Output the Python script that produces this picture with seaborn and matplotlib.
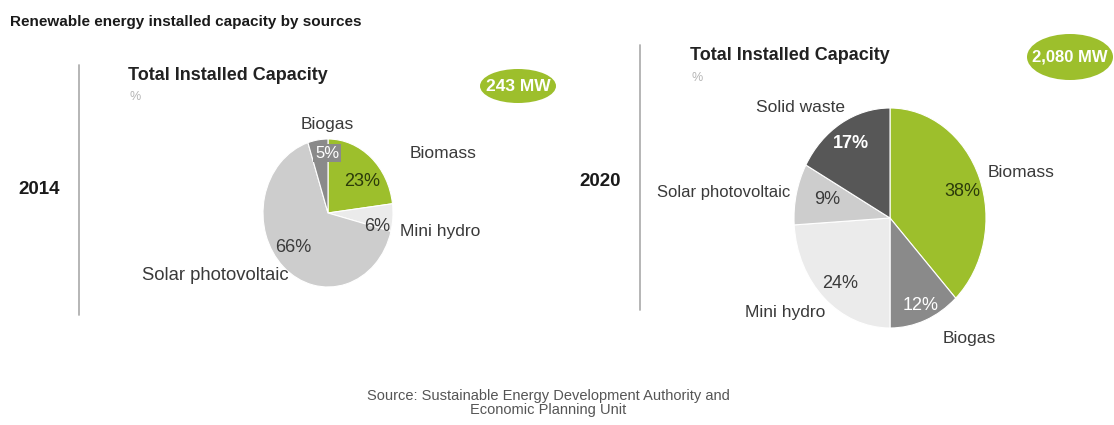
import matplotlib
matplotlib.use("Agg")
import matplotlib.pyplot as plt
from matplotlib.patches import Ellipse
import seaborn as sns

sns.set_theme(style="white")
plt.rcParams["font.family"] = ["Liberation Sans", "DejaVu Sans"]

# ---------------- data ----------------
title = "Renewable energy installed capacity by sources"
years = ["2014", "2020"]
totals = ["243 MW", "2,080 MW"]

sources_2014 = ["Biomass", "Mini hydro", "Solar photovoltaic", "Biogas"]
values_2014 = [23, 6, 66, 5]

sources_2020 = ["Biomass", "Biogas", "Mini hydro", "Solar photovoltaic", "Solid waste"]
values_2020 = [38, 12, 24, 9, 17]

source_note = "Source: Sustainable Energy Development Authority and\nEconomic Planning Unit"

# ---------------- styles ----------------
GREEN = "#9dbf2c"
color_map = {
    "Biomass": GREEN,
    "Mini hydro": "#ebebeb",
    "Solar photovoltaic": "#cdcdcd",
    "Biogas": "#8a8a8a",
    "Solid waste": "#575757",
}

W, H = 1114, 425
fig = plt.figure(figsize=(W / 100, H / 100), dpi=100)
fig.patch.set_facecolor("white")


def fx(x):
    return x / W


def fy(y):
    return 1 - y / H


def ftext(x, y, s, **kw):
    kw.setdefault("va", "center")
    kw.setdefault("ha", "left")
    fig.text(fx(x), fy(y), s, **kw)


# background axes for lines / badges
bg = fig.add_axes([0, 0, 1, 1])
bg.set_xlim(0, W)
bg.set_ylim(H, 0)
bg.axis("off")

# title
ftext(10, 22, title, fontsize=11, fontweight="bold", color="#1a1a1a")

# vertical separators
bg.plot([79, 79], [65, 315], color="#b0b0b0", lw=1.3)
bg.plot([640, 640], [45, 310], color="#b0b0b0", lw=1.3)

# year labels
ftext(18, 190, years[0], fontsize=13.5, fontweight="bold", color="#1a1a1a")
ftext(579, 181, years[1], fontsize=13.5, fontweight="bold", color="#1a1a1a")

# panel headings
ftext(128, 75, "Total Installed Capacity", fontsize=13, fontweight="bold", color="#222222")
ftext(129, 97, "%", fontsize=9, color="#b5b5b5")
ftext(690, 55, "Total Installed Capacity", fontsize=13, fontweight="bold", color="#222222")
ftext(691, 78, "%", fontsize=9, color="#b5b5b5")

# badges
for (cx, cy, w, h), txt, fs in zip([(518, 86, 76, 34), (1070, 57, 86, 46)], totals, [12.5, 12]):
    bg.add_patch(Ellipse((cx, cy), w, h, facecolor=GREEN, edgecolor="none"))
    bg.text(cx, cy, txt, ha="center", va="center", color="white",
            fontsize=fs, fontweight="bold")


def draw_pie(center, rx, ry, sources, values):
    cx, cy = center
    ax = fig.add_axes([fx(cx - rx), fy(cy + ry), 2 * rx / W, 2 * ry / H])
    cols = [color_map[s] for s in sources]
    ax.pie(values, colors=cols, startangle=90, counterclock=False,
           wedgeprops=dict(linewidth=0.8, edgecolor="white"))
    ax.set_aspect("auto")
    ax.set_xlim(-1, 1)
    ax.set_ylim(-1, 1)
    ax.axis("off")
    return ax


draw_pie((328, 213), 65, 74, sources_2014, values_2014)
draw_pie((890, 218), 96, 110, sources_2020, values_2020)

lab_kw = dict(fontsize=12.5, color="#3a3a3a")
pct_kw = dict(fontsize=13, color="#3a3a3a")

# ---- 2014 labels ----
v = dict(zip(sources_2014, values_2014))
ftext(327, 124, "Biogas", ha="center", **lab_kw)
ftext(327, 153, f"{v['Biogas']}%", ha="center", fontsize=12, color="white",
      bbox=dict(boxstyle="square,pad=0.1", facecolor="#8a8a8a", edgecolor="none"))
ftext(410, 153, "Biomass", **lab_kw)
ftext(362, 181, f"{v['Biomass']}%", ha="center", fontsize=13, color="#2b3a0a")
ftext(377, 227, f"{v['Mini hydro']}%", ha="center", **pct_kw)
ftext(400, 231, "Mini hydro", **lab_kw)
ftext(293, 248, f"{v['Solar photovoltaic']}%", ha="center", **pct_kw)
ftext(142, 276, "Solar photovoltaic", fontsize=13.3, color="#3a3a3a")

# ---- 2020 labels ----
v = dict(zip(sources_2020, values_2020))
ftext(800, 108, "Solid waste", ha="center", **lab_kw)
ftext(851, 143, f"{v['Solid waste']}%", ha="center", fontsize=13,
      fontweight="bold", color="white")
ftext(988, 172, "Biomass", **lab_kw)
ftext(962, 191, f"{v['Biomass']}%", ha="center", fontsize=13, color="#2b3a0a")
ftext(657, 192, "Solar photovoltaic", fontsize=12, color="#3a3a3a")
ftext(827, 200, f"{v['Solar photovoltaic']}%", ha="center", **pct_kw)
ftext(840, 283, f"{v['Mini hydro']}%", ha="center", **pct_kw)
ftext(745, 313, "Mini hydro", **lab_kw)
ftext(921, 306, f"{v['Biogas']}%", ha="center", fontsize=13, color="white")
ftext(943, 338, "Biogas", **lab_kw)

# source note
ftext(548, 403, source_note, ha="center", fontsize=10.5, color="#555555",
      linespacing=1.0)

fig.savefig("out.png", dpi=100, facecolor="white")
